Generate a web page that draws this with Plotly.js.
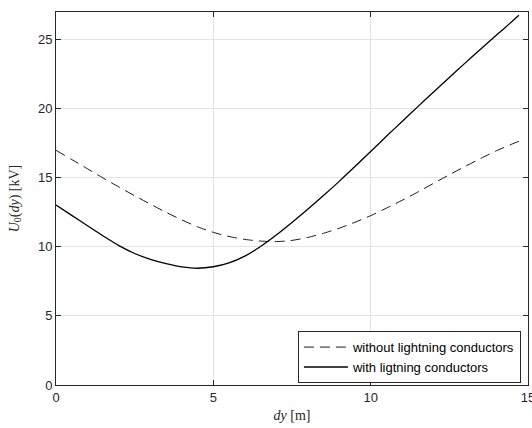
<!DOCTYPE html>
<html>
<head>
<meta charset="utf-8">
<script src="https://cdn.plot.ly/plotly-3.0.1.min.js"></script>
<style>html,body{margin:0;padding:0;background:#fff;}#chart{width:532px;height:428px;}</style>
</head>
<body>
<div id="chart"></div>
<script>
var xVals = [0, 0.5, 1, 1.5, 2, 2.5, 3, 3.5, 4, 4.5, 5, 5.5, 6, 6.5, 7, 7.5, 8, 8.5, 9, 9.5, 10, 10.5, 11, 11.5, 12, 12.5, 13, 13.5, 14, 14.5, 14.71];
var withoutConductors = [16.99, 16.32, 15.65, 14.98, 14.33, 13.7, 13.09, 12.5, 11.95, 11.45, 11.05, 10.75, 10.54, 10.42, 10.38, 10.47, 10.68, 10.98, 11.35, 11.78, 12.26, 12.8, 13.37, 13.97, 14.6, 15.22, 15.82, 16.4, 16.96, 17.45, 17.64];
var withConductors = [13.03, 12.28, 11.53, 10.79, 10.09, 9.52, 9.09, 8.78, 8.55, 8.45, 8.56, 8.84, 9.33, 10.03, 10.86, 11.77, 12.72, 13.71, 14.74, 15.81, 16.9, 18.0, 19.08, 20.15, 21.21, 22.26, 23.3, 24.32, 25.33, 26.33, 26.76];
var names = ["without lightning conductors", "with ligtning conductors"];
var xTicks = [0, 5, 10, 15];
var yTicks = [0, 5, 10, 15, 20, 25];

var axisCol = '#262626';
var traces = [
  {x: xVals, y: withoutConductors, name: names[0], mode: 'lines', type: 'scatter',
   line: {color: '#1a1a1a', width: 1, dash: '10px,6px', shape: 'spline', smoothing: 0.8}},
  {x: xVals, y: withConductors, name: names[1], mode: 'lines', type: 'scatter',
   line: {color: '#000000', width: 1.3, shape: 'spline', smoothing: 0.8}}
];
var layout = {
  width: 532, height: 428,
  margin: {l: 56, r: 4, t: 12, b: 43},
  paper_bgcolor: '#fff', plot_bgcolor: '#fff',
  font: {family: 'Liberation Sans, Arial, sans-serif', size: 13, color: axisCol},
  showlegend: true,
  legend: {x: 0.985, y: 0.005, xanchor: 'right', yanchor: 'bottom',
           bgcolor: '#fff', bordercolor: axisCol, borderwidth: 1,
           font: {family: 'Liberation Sans, Arial, sans-serif', size: 13, color: '#000'},
           itemwidth: 44, tracegroupgap: 0},
  xaxis: {range: [0, 15.0002], tickvals: xTicks, ticktext: xTicks.map(String),
          ticklabeloverflow: 'allow',
          showgrid: true, gridcolor: '#e3e3e3', gridwidth: 1, zeroline: false,
          showline: true, linecolor: axisCol, linewidth: 1, mirror: 'ticks',
          ticks: 'inside', ticklen: 5, tickcolor: axisCol, tickwidth: 1,
          tickfont: {size: 13, color: axisCol},
          title: {text: '<i>dy</i> [m]', standoff: 6,
                  font: {family: 'Liberation Serif, Times New Roman, serif', size: 14, color: axisCol}}},
  yaxis: {range: [0, 27], tickvals: yTicks, ticktext: yTicks.map(String),
          showgrid: true, gridcolor: '#e3e3e3', gridwidth: 1, zeroline: false,
          showline: true, linecolor: axisCol, linewidth: 1, mirror: 'ticks',
          ticks: 'inside', ticklen: 5, tickcolor: axisCol, tickwidth: 1,
          tickfont: {size: 13, color: axisCol},
          title: {text: '<i>U</i><sub>0</sub>(<i>dy</i>) [kV]', standoff: 15,
                  font: {family: 'Liberation Serif, Times New Roman, serif', size: 14, color: axisCol}}}
};
Plotly.newPlot('chart', traces, layout, {displayModeBar: false, staticPlot: true});
</script>
</body>
</html>
